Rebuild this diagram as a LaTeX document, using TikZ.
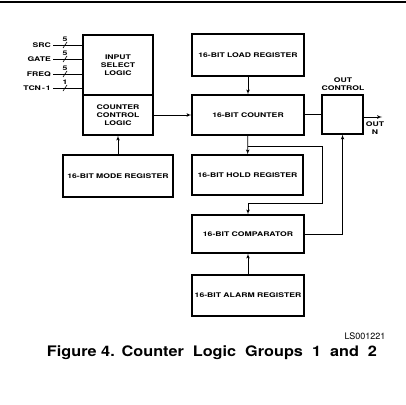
\documentclass[tikz,border=0pt]{standalone}
\usepackage{fontspec}
\setmainfont{TeX Gyre Heros}
\newfontfamily\widefont{TeX Gyre Heros}[FakeStretch=1.35]
\newfontfamily\capfont{TeX Gyre Heros}[FakeStretch=1.12]
\usetikzlibrary{shapes,arrows}
\tikzstyle{block} = [rectangle, draw, line width=1.1pt, inner sep=0pt,
    font=\widefont\fontsize{6.4}{8}\selectfont\bfseries, align=center]
\tikzstyle{label} = [inner sep=0pt, font=\widefont\fontsize{6.4}{8}\selectfont\bfseries, align=center]
\tikzstyle{line} = [draw, line width=0.7pt, -latex']
\tikzstyle{wire} = [draw, line width=0.7pt]

\begin{document}
\begin{tikzpicture}[x=1pt, y=-1pt]
    \useasboundingbox (0,0) rectangle (406,404);
    \draw [line width=1.4pt] (0,2) -- (406,2);
    % Place nodes
    \node [block, minimum width=112pt, minimum height=40pt] (counter) at (248,115) {16-BIT COUNTER};
    \node [block, minimum width=112pt, minimum height=42pt] (load) at (248,55) {16-BIT LOAD REGISTER};
    \node [block, minimum width=111pt, minimum height=40pt] (hold) at (247.5,175) {16-BIT HOLD REGISTER};
    \node [block, minimum width=112pt, minimum height=38pt] (comp) at (248,234) {16-BIT COMPARATOR};
    \node [block, minimum width=112pt, minimum height=41pt] (alarm) at (248,295.5) {16-BIT ALARM REGISTER};
    \node [block, minimum width=70pt, minimum height=40pt] (ctrl) at (118,115) {COUNTER\\CONTROL\\LOGIC};
    \node [block, minimum width=70pt, minimum height=60pt] (insel) at (118,65) {INPUT\\SELECT\\LOGIC};
    \node [block, minimum width=110pt, minimum height=42pt] (mode) at (118,176) {16-BIT MODE REGISTER};
    \node [block, minimum width=41pt, minimum height=39pt] (outctl) at (342.5,114.5) {};
    \node [label] (outname) at (343,84.5) {OUT\\CONTROL};
    \node [label] (outpin) at (375,128.5) {OUT\\N};
    \coordinate (outend) at (382,117);
    \coordinate (tap) at (248,146);
    \coordinate (turn) at (322,203);
    % Inputs
    \foreach \name/\bits/\y in {SRC/5/45, GATE/5/59, FREQ/5/74, TCN\,-\,1/1/88} {
        \node [label, anchor=east] (in) at (51,\y) {\name};
        \path [wire] (in.east) ++(2pt,0) -- (in.east -| insel.west);
        \draw [line width=0.6pt] (63,\y+3) -- (67,\y-3);
        \node [label] at (65,\y-6) {\bits};
    }
    % Draw edges
    \path [line] (load)    -- (counter);
    \path [line] (ctrl)    -- (ctrl -| counter.west);
    \path [wire] (counter.east |- outctl) -- (outctl);
    \path [line] (outctl.east |- outend) -- (outend);
    \path [line] (mode)    -- (ctrl);
    \path [line] (counter) -- (hold);
    \path [line] (tap) -| (turn) -| (comp.north);
    \path [line] (alarm)   -- (comp);
    \path [line] (comp.east) -| (outctl.south);
    % Caption
    \node [anchor=east, font=\fontsize{9}{10}\selectfont] (code) at (389,336) {LS001221};
    \node [font=\capfont\fontsize{14.5}{16}\selectfont\bfseries] (caption) at (212,353) {Figure 4.\ \,Counter \ Logic \ Groups \ 1 \ and \ 2};
\end{tikzpicture}
\end{document}
